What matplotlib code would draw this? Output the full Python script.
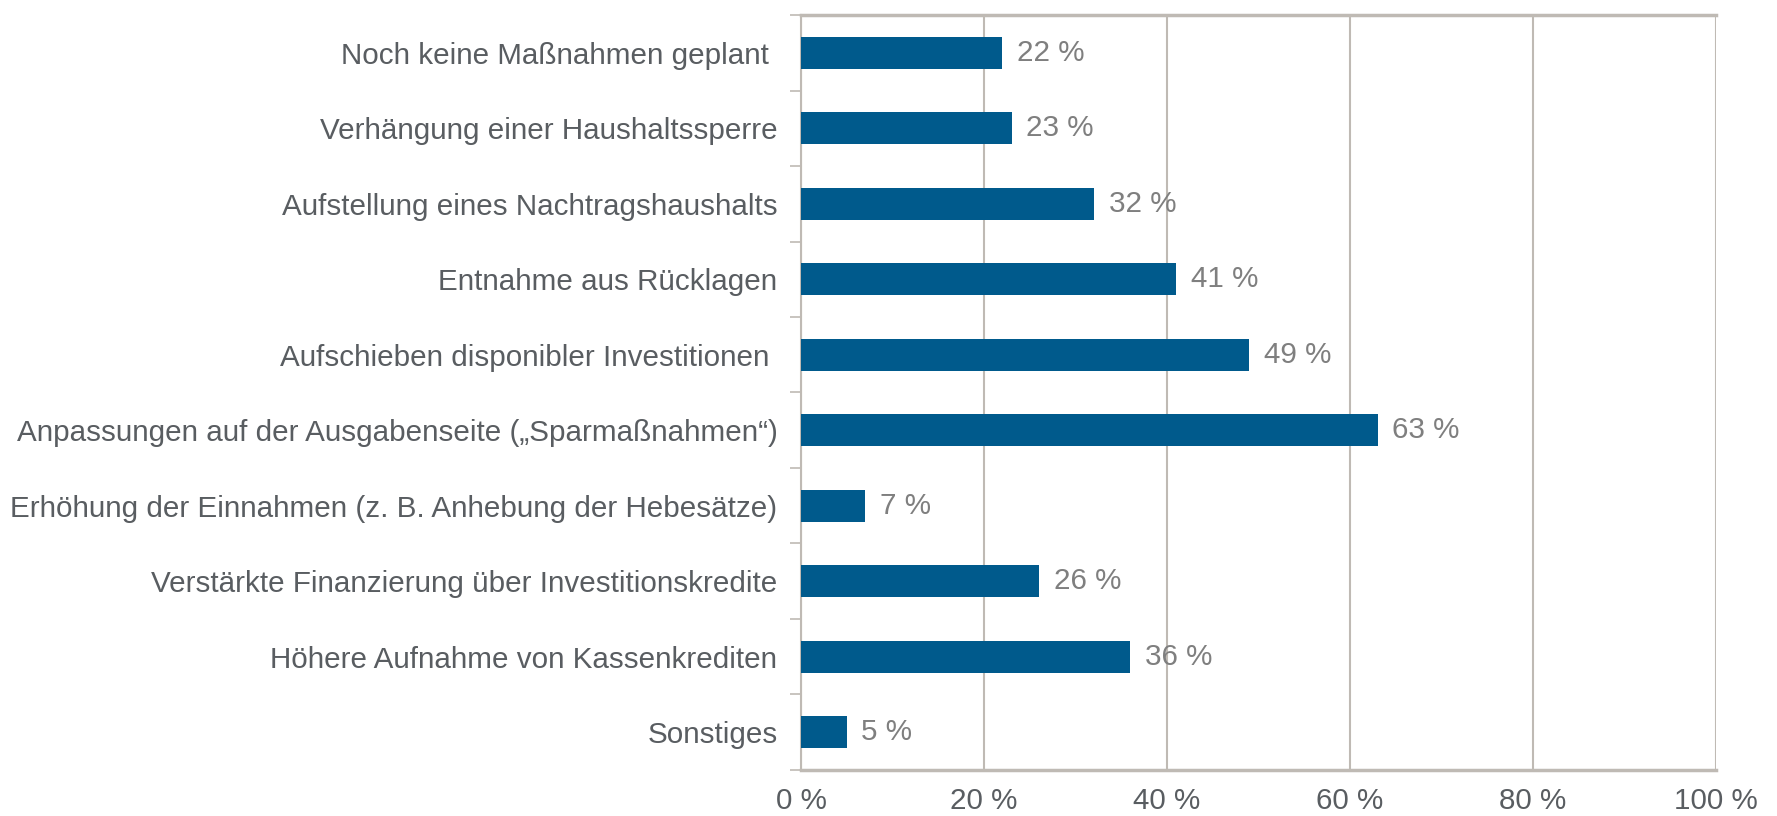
import numpy as np
import matplotlib.pyplot as plt
from matplotlib.ticker import FixedLocator

plt.rc('font', **{'family': 'sans-serif', 'sans-serif': ['Liberation Sans', 'DejaVu Sans']})

#########################
##    dados            ##
#########################

kategorien = [
    "Noch keine Maßnahmen geplant ",
    "Verhängung einer Haushaltssperre",
    "Aufstellung eines Nachtragshaushalts",
    "Entnahme aus Rücklagen",
    "Aufschieben disponibler Investitionen ",
    "Anpassungen auf der Ausgabenseite (\u201eSparmaßnahmen\u201c)",
    "Erhöhung der Einnahmen (z. B. Anhebung der Hebesätze)",
    "Verstärkte Finanzierung über Investitionskredite",
    "Höhere Aufnahme von Kassenkrediten",
    "Sonstiges",
]
werte = [22, 23, 32, 41, 49, 63, 7, 26, 36, 5]
xticks = [0, 20, 40, 60, 80, 100]
xticklabels = ["0 %", "20 %", "40 %", "60 %", "80 %", "100 %"]

#########################
##    controles        ##
#########################

blau = '#005a8c'
grau_linie = '#bfbab4'
grau_text = '#595d61'
grau_wert = '#7f7f7f'
fs = 21.3

fig = plt.figure(figsize=(17.77, 8.16), dpi=100)
ax = fig.add_axes([0.4508, 0.0564, 0.9657 - 0.4508, 0.9816 - 0.0564])

y = np.arange(len(kategorien))
ax.barh(y, werte, height=0.42, color=blau, zorder=3)

for yi, v in zip(y, werte):
    ax.text(v + 1.6, yi, f"{v} %", va='center', ha='left', fontsize=fs, color=grau_wert, zorder=4)

ax.set_xlim(0, 100)
ax.set_ylim(len(kategorien) - 0.5, -0.5)

ax.set_yticks(y)
ax.set_yticklabels(kategorien, fontsize=fs, color=grau_text)
ax.tick_params(axis='y', which='major', length=0, pad=17)
ax.yaxis.set_minor_locator(FixedLocator(np.arange(-0.5, len(kategorien), 1.0)))
ax.tick_params(axis='y', which='minor', length=8, width=1.2, color=grau_linie)

ax.set_xticks(xticks)
ax.set_xticklabels(xticklabels, fontsize=fs, color=grau_text)
ax.tick_params(axis='x', length=0, pad=12.5)

ax.grid(axis='x', color=grau_linie, linewidth=1.5, zorder=0)
for s in ['left', 'top', 'bottom']:
    ax.spines[s].set_color(grau_linie)
    ax.spines[s].set_linewidth(2.5)
ax.spines['left'].set_linewidth(1.5)
ax.spines['right'].set_visible(False)

plt.savefig('out.png', dpi=100)
